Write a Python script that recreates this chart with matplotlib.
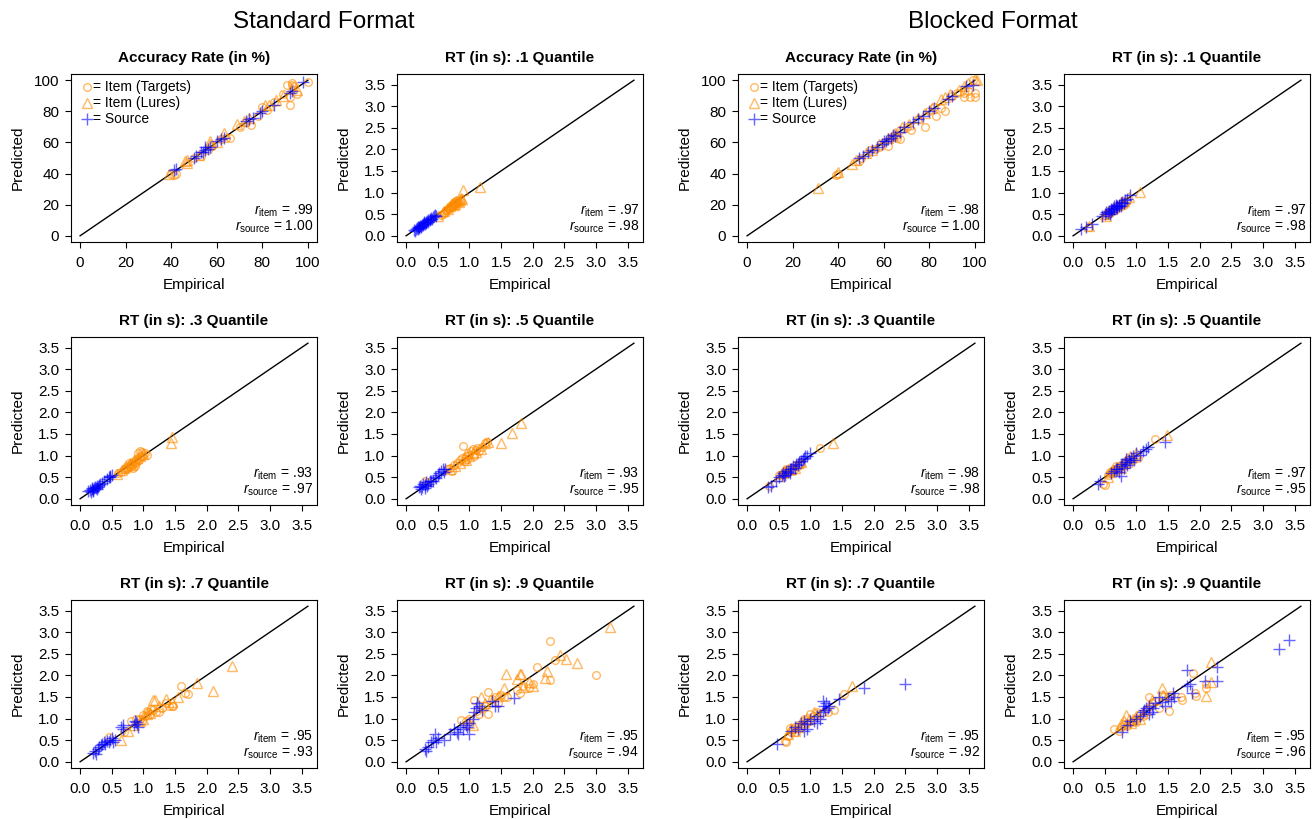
import numpy as np
import matplotlib.pyplot as plt

plt.rcParams['font.family'] = ['Liberation Sans', 'DejaVu Sans']
plt.rcParams['mathtext.fontset'] = 'custom'
plt.rcParams['mathtext.rm'] = 'Liberation Sans'
plt.rcParams['mathtext.it'] = 'Liberation Sans:italic'

ORANGE = '#FF8C00'
BLUE = '#0000FF'

# ---- Standard format: accuracy (%) ----
sf_acc_targets = [(40, 40), (41, 39), (42, 40), (50, 50), (53, 51), (56, 55), (58, 58), (62, 62),
                  (64, 63), (66, 63), (70, 70), (73, 73), (75, 71), (78, 77), (80, 83), (82, 81),
                  (85, 86), (89, 91), (91, 97), (92, 89), (92, 84), (93, 97), (93, 98), (94, 96),
                  (95, 91), (100, 99)]
sf_acc_lures = [(39, 40), (46, 48), (47, 47), (47, 49), (52, 52), (57, 59), (57, 61), (60, 60),
                (63, 66), (69, 72), (72, 74), (74, 76), (81, 84), (83, 84), (86, 87), (89, 90),
                (93, 95), (95, 94)]
sf_acc_source = [(41, 42), (42, 43), (50, 50), (51, 51), (53, 54), (54, 54), (55, 55), (55, 57),
                 (56, 56), (57, 57), (60, 61), (62, 62), (63, 63), (73, 74), (74, 75), (76, 76),
                 (79, 79), (80, 80), (85, 84), (92, 92), (93, 93), (98, 99)]

# ---- Standard format: RT .1 quantile ----
sf_q1_targets = [(0.55, 0.48), (0.58, 0.50), (0.60, 0.52), (0.62, 0.55), (0.63, 0.60), (0.65, 0.60),
                 (0.67, 0.65), (0.68, 0.63), (0.70, 0.66), (0.70, 0.70), (0.72, 0.68), (0.73, 0.70),
                 (0.74, 0.74), (0.75, 0.72), (0.76, 0.78), (0.77, 0.73), (0.78, 0.76), (0.79, 0.80),
                 (0.80, 0.77), (0.81, 0.83), (0.82, 0.78), (0.85, 0.80)]
sf_q1_lures = [(0.50, 0.46), (0.60, 0.57), (0.66, 0.62), (0.70, 0.68), (0.72, 0.74), (0.75, 0.71),
               (0.78, 0.74), (0.80, 0.80), (0.83, 0.79), (0.85, 0.82), (0.87, 0.88), (0.88, 0.85),
               (0.90, 1.05), (1.17, 1.12)]
sf_q1_source = [(0.12, 0.13), (0.14, 0.12), (0.15, 0.16), (0.17, 0.17), (0.18, 0.15), (0.19, 0.21),
                (0.20, 0.20), (0.21, 0.18), (0.22, 0.23), (0.23, 0.20), (0.24, 0.22), (0.25, 0.25),
                (0.26, 0.28), (0.27, 0.26), (0.28, 0.29), (0.29, 0.31), (0.30, 0.28), (0.31, 0.30),
                (0.32, 0.31), (0.33, 0.34), (0.34, 0.36), (0.35, 0.33), (0.37, 0.38), (0.38, 0.36),
                (0.40, 0.41), (0.41, 0.38), (0.42, 0.43), (0.44, 0.45), (0.45, 0.47), (0.47, 0.46)]

# ---- Standard format: RT .3 quantile ----
sf_q3_targets = [(0.60, 0.60), (0.65, 0.62), (0.70, 0.68), (0.72, 0.70), (0.75, 0.72), (0.77, 0.75),
                 (0.78, 0.82), (0.80, 0.80), (0.82, 0.78), (0.83, 0.72), (0.84, 0.85), (0.86, 0.88),
                 (0.87, 0.75), (0.88, 0.82), (0.90, 0.92), (0.92, 1.05), (0.93, 0.90), (0.95, 1.10),
                 (0.97, 0.98), (0.98, 1.08), (1.00, 1.00), (1.02, 1.05), (1.05, 1.02)]
sf_q3_lures = [(0.58, 0.58), (0.66, 0.67), (0.70, 0.72), (0.73, 0.76), (0.79, 0.83), (0.81, 0.79),
               (0.85, 0.90), (0.90, 0.95), (0.95, 1.00), (1.00, 1.03), (1.44, 1.30), (1.45, 1.42)]
sf_q3_source = [(0.13, 0.18), (0.15, 0.20), (0.17, 0.16), (0.18, 0.22), (0.19, 0.25), (0.20, 0.20),
                (0.21, 0.18), (0.22, 0.24), (0.24, 0.27), (0.25, 0.25), (0.26, 0.22), (0.27, 0.30),
                (0.28, 0.28), (0.30, 0.31), (0.32, 0.34), (0.35, 0.36), (0.38, 0.40), (0.42, 0.45),
                (0.45, 0.50), (0.47, 0.50), (0.48, 0.53), (0.50, 0.55)]

# ---- Standard format: RT .5 quantile ----
sf_q5_targets = [(0.30, 0.40), (0.35, 0.38), (0.65, 0.68), (0.70, 0.72), (0.72, 0.65), (0.75, 0.78),
                 (0.80, 0.82), (0.85, 0.90), (0.88, 0.95), (0.90, 1.22), (0.93, 0.88), (0.95, 1.00),
                 (0.97, 0.92), (0.98, 1.05), (1.00, 1.02), (1.02, 1.10), (1.05, 1.15), (1.08, 1.00),
                 (1.10, 1.12), (1.12, 1.18), (1.15, 1.10), (1.20, 1.20), (1.25, 1.30), (1.28, 1.32)]
sf_q5_lures = [(0.70, 0.70), (0.78, 0.76), (0.85, 0.83), (0.92, 0.95), (0.95, 0.90), (1.00, 0.98),
               (1.05, 1.05), (1.10, 1.08), (1.18, 1.15), (1.25, 1.28), (1.30, 1.32), (1.50, 1.28),
               (1.68, 1.53), (1.82, 1.76)]
sf_q5_source = [(0.20, 0.28), (0.22, 0.30), (0.24, 0.22), (0.25, 0.27), (0.27, 0.35), (0.30, 0.32),
                (0.30, 0.25), (0.32, 0.38), (0.33, 0.30), (0.35, 0.35), (0.37, 0.40), (0.40, 0.42),
                (0.42, 0.40), (0.45, 0.50), (0.48, 0.47), (0.50, 0.55), (0.52, 0.60), (0.55, 0.65),
                (0.58, 0.68), (0.60, 0.62), (0.62, 0.70)]

# ---- Standard format: RT .7 quantile ----
sf_q7_targets = [(0.45, 0.57), (0.70, 0.70), (0.80, 0.95), (0.88, 1.00), (0.95, 1.00), (0.98, 0.95),
                 (1.00, 1.08), (1.02, 1.05), (1.05, 1.18), (1.08, 1.15), (1.10, 1.10), (1.12, 1.22),
                 (1.15, 1.20), (1.20, 1.15), (1.25, 1.15), (1.30, 1.25), (1.35, 1.35), (1.40, 1.30),
                 (1.45, 1.30), (1.47, 1.28), (1.60, 1.75), (1.65, 1.60), (1.70, 1.58)]
sf_q7_lures = [(0.65, 0.50), (0.75, 0.72), (0.85, 0.85), (0.95, 0.95), (1.00, 0.98), (1.05, 1.10),
               (1.10, 1.12), (1.15, 1.42), (1.18, 1.42), (1.25, 1.30), (1.35, 1.45), (1.45, 1.38),
               (1.55, 1.50), (1.85, 1.83), (2.10, 1.63), (2.40, 2.22)]
sf_q7_source = [(0.20, 0.20), (0.23, 0.25), (0.25, 0.18), (0.28, 0.30), (0.30, 0.35), (0.33, 0.38),
                (0.35, 0.42), (0.38, 0.45), (0.40, 0.40), (0.42, 0.48), (0.45, 0.45), (0.48, 0.50),
                (0.50, 0.55), (0.52, 0.45), (0.55, 0.50), (0.65, 0.80), (0.67, 0.85), (0.68, 0.75),
                (0.85, 0.85), (0.87, 0.95), (0.88, 0.92), (0.90, 0.88), (0.92, 0.80)]

# ---- Standard format: RT .9 quantile ----
sf_q9_targets = [(0.87, 0.97), (0.95, 0.95), (1.00, 0.98), (1.08, 1.42), (1.12, 1.18), (1.15, 1.10),
                 (1.20, 1.25), (1.25, 1.30), (1.30, 1.62), (1.30, 1.10), (1.35, 1.45), (1.40, 1.50),
                 (1.45, 1.35), (1.50, 1.55), (1.55, 1.50), (1.60, 1.50), (1.75, 1.65), (1.80, 1.60),
                 (1.85, 1.75), (1.95, 1.70), (2.00, 1.80), (2.07, 2.20), (2.27, 2.80), (2.28, 1.90),
                 (2.35, 2.35), (3.00, 2.00)]
sf_q9_lures = [(1.00, 0.90), (1.05, 0.85), (1.18, 1.50), (1.25, 1.35), (1.35, 1.40), (1.45, 1.52),
               (1.55, 1.70), (1.58, 2.03), (1.75, 1.92), (1.80, 2.03), (1.82, 2.03), (1.85, 1.72),
               (1.95, 1.85), (2.00, 1.75), (2.20, 1.95), (2.22, 2.10), (2.43, 2.48), (2.52, 2.38),
               (2.70, 2.28), (3.22, 3.12)]
sf_q9_source = [(0.30, 0.30), (0.32, 0.25), (0.35, 0.35), (0.40, 0.45), (0.43, 0.50), (0.45, 0.65),
                (0.47, 0.45), (0.50, 0.55), (0.60, 0.50), (0.70, 0.65), (0.75, 0.75), (0.80, 0.70),
                (0.82, 0.65), (0.85, 0.80), (0.90, 0.75), (0.95, 0.85), (0.97, 0.80), (1.00, 0.65),
                (1.00, 0.90), (1.05, 1.00), (1.08, 1.15), (1.10, 1.25), (1.12, 1.35), (1.15, 1.30),
                (1.20, 1.20), (1.35, 1.40), (1.40, 1.30), (1.45, 1.28), (1.70, 1.48)]

# ---- Blocked format: accuracy (%) ----
bf_acc_targets = [(39, 39), (40, 40), (49, 48), (50, 50), (54, 55), (56, 56), (58, 57), (60, 60),
                  (62, 58), (63, 63), (64, 64), (66, 63), (67, 62), (67, 68), (70, 70), (72, 68),
                  (75, 75), (78, 70), (80, 80), (82, 83), (83, 77), (85, 82), (87, 80), (90, 90),
                  (92, 92), (95, 89), (95, 92), (97, 93), (98, 89), (99, 100), (100, 92), (100, 89)]
bf_acc_lures = [(31, 31), (40, 41), (46, 46), (48, 49), (52, 53), (55, 55), (58, 59), (62, 63),
                (64, 65), (65, 66), (68, 70), (71, 72), (75, 76), (78, 79), (81, 82), (85, 88),
                (87, 89), (89, 91), (93, 94), (95, 96), (97, 98), (100, 101), (101, 100)]
bf_acc_source = [(49, 50), (51, 51), (53, 54), (55, 55), (57, 57), (59, 59), (60, 61), (61, 61),
                 (62, 62), (63, 63), (64, 65), (65, 64), (67, 67), (69, 70), (73, 73), (75, 75),
                 (77, 77), (80, 80), (82, 82), (88, 88), (90, 90), (96, 96), (99, 97)]

# ---- Blocked format: RT .1 quantile ----
bf_q1_targets = [(0.25, 0.20), (0.50, 0.48), (0.55, 0.50), (0.58, 0.55), (0.60, 0.58), (0.65, 0.60),
                 (0.68, 0.62), (0.70, 0.68), (0.75, 0.70), (0.78, 0.75), (0.80, 0.72), (0.85, 0.80)]
bf_q1_lures = [(0.25, 0.22), (0.50, 0.50), (0.52, 0.45), (0.55, 0.58), (0.62, 0.62), (0.70, 0.72),
               (0.75, 0.78), (0.80, 0.80), (0.88, 0.90), (1.05, 1.02)]
bf_q1_source = [(0.12, 0.15), (0.20, 0.20), (0.30, 0.28), (0.45, 0.45), (0.50, 0.50), (0.52, 0.55),
                (0.55, 0.52), (0.57, 0.58), (0.58, 0.50), (0.60, 0.55), (0.60, 0.62), (0.62, 0.60),
                (0.63, 0.65), (0.65, 0.62), (0.65, 0.68), (0.67, 0.66), (0.68, 0.72), (0.70, 0.70),
                (0.70, 0.65), (0.72, 0.72), (0.73, 0.68), (0.75, 0.70), (0.75, 0.75), (0.78, 0.78),
                (0.80, 0.75), (0.82, 0.82), (0.85, 0.85), (0.90, 0.95)]

# ---- Blocked format: RT .3 quantile ----
bf_q3_targets = [(0.35, 0.30), (0.50, 0.55), (0.55, 0.58), (0.60, 0.65), (0.63, 0.60), (0.65, 0.68),
                 (0.70, 0.72), (0.72, 0.65), (0.75, 0.78), (0.80, 0.75), (0.85, 0.80), (1.15, 1.18)]
bf_q3_lures = [(0.50, 0.52), (0.55, 0.60), (0.58, 0.66), (0.60, 0.63), (0.65, 0.70), (0.70, 0.70),
               (0.75, 0.72), (0.80, 0.82), (0.85, 0.85), (1.35, 1.30)]
bf_q3_source = [(0.33, 0.27), (0.38, 0.30), (0.45, 0.42), (0.50, 0.50), (0.55, 0.55), (0.57, 0.60),
                (0.58, 0.52), (0.60, 0.55), (0.62, 0.65), (0.65, 0.62), (0.67, 0.70), (0.68, 0.60),
                (0.70, 0.68), (0.72, 0.75), (0.75, 0.72), (0.77, 0.80), (0.80, 0.78), (0.82, 0.85),
                (0.85, 0.88), (0.88, 0.92), (0.90, 0.95), (0.92, 0.98), (0.95, 1.00), (1.00, 1.05)]

# ---- Blocked format: RT .5 quantile ----
bf_q5_targets = [(0.48, 0.35), (0.50, 0.33), (0.55, 0.55), (0.58, 0.62), (0.60, 0.60), (0.62, 0.65),
                 (0.65, 0.70), (0.68, 0.75), (0.70, 0.72), (0.72, 0.68), (0.75, 0.78), (0.80, 0.82),
                 (0.85, 0.88), (0.88, 0.80), (0.90, 0.92), (0.95, 0.90), (1.00, 1.00), (1.02, 0.95),
                 (1.30, 1.38)]
bf_q5_lures = [(0.55, 0.50), (0.60, 0.62), (0.65, 0.66), (0.70, 0.74), (0.75, 0.72), (0.78, 0.80),
               (0.80, 0.85), (0.85, 0.95), (0.90, 0.98), (1.00, 1.05), (1.48, 1.48)]
bf_q5_source = [(0.40, 0.35), (0.42, 0.40), (0.60, 0.60), (0.65, 0.65), (0.68, 0.68), (0.70, 0.70),
                (0.72, 0.62), (0.75, 0.52), (0.75, 0.75), (0.78, 0.80), (0.80, 0.72), (0.82, 0.85),
                (0.83, 0.92), (0.85, 0.78), (0.88, 0.90), (0.90, 0.85), (0.92, 0.95), (0.95, 1.00),
                (0.97, 0.90), (1.00, 1.05), (1.05, 1.02), (1.10, 1.10), (1.15, 1.15), (1.18, 1.20),
                (1.45, 1.32)]

# ---- Blocked format: RT .7 quantile ----
bf_q7_targets = [(0.60, 0.48), (0.62, 0.45), (0.65, 0.60), (0.68, 0.78), (0.70, 0.70), (0.72, 0.75),
                 (0.75, 0.80), (0.78, 0.70), (0.80, 0.85), (0.85, 0.80), (0.88, 0.95), (0.90, 1.00),
                 (0.95, 0.92), (1.00, 1.10), (1.05, 1.05), (1.10, 1.15), (1.20, 1.15), (1.28, 1.15),
                 (1.38, 1.20), (1.53, 1.58)]
bf_q7_lures = [(0.65, 0.65), (0.70, 0.78), (0.75, 0.72), (0.80, 0.80), (0.85, 0.88), (0.90, 0.92),
               (0.95, 1.02), (1.00, 1.00), (1.05, 1.15), (1.10, 1.10), (1.66, 1.76)]
bf_q7_source = [(0.48, 0.42), (0.70, 0.72), (0.75, 0.80), (0.80, 0.75), (0.85, 0.90), (0.90, 0.72),
                (0.90, 0.95), (0.95, 0.88), (0.95, 0.75), (1.00, 1.00), (1.05, 0.95), (1.10, 0.90),
                (1.10, 1.05), (1.15, 1.00), (1.20, 1.40), (1.20, 1.15), (1.22, 1.30), (1.23, 1.20),
                (1.25, 1.35), (1.28, 1.25), (1.30, 1.30), (1.45, 1.45), (1.85, 1.70), (2.50, 1.80)]

# ---- Blocked format: RT .9 quantile ----
bf_q9_targets = [(0.65, 0.75), (0.72, 0.72), (0.75, 0.80), (0.80, 0.85), (0.85, 0.82), (0.90, 0.90),
                 (0.95, 0.95), (1.00, 1.00), (1.00, 0.92), (1.05, 1.10), (1.10, 1.05), (1.15, 1.20),
                 (1.20, 1.50), (1.22, 1.30), (1.25, 1.35), (1.30, 1.40), (1.35, 1.25), (1.40, 1.55),
                 (1.50, 1.50), (1.52, 1.17), (1.55, 1.55), (1.70, 1.50), (1.72, 1.42), (1.90, 2.05),
                 (1.92, 1.60), (1.95, 1.53), (2.10, 1.70), (2.10, 1.80)]
bf_q9_lures = [(0.75, 0.88), (0.80, 0.95), (0.83, 1.08), (0.88, 1.00), (0.92, 0.90), (0.95, 0.98),
               (1.00, 1.05), (1.05, 1.00), (1.10, 1.12), (1.15, 1.20), (1.25, 1.42), (1.40, 1.70),
               (1.42, 1.55), (2.10, 1.52), (2.18, 1.85), (2.18, 2.32)]
bf_q9_source = [(0.78, 0.68), (0.85, 0.85), (0.90, 0.95), (1.00, 1.00), (1.05, 1.05), (1.10, 1.15),
                (1.12, 1.20), (1.15, 1.25), (1.20, 1.28), (1.20, 1.10), (1.25, 1.15), (1.27, 1.25),
                (1.30, 1.35), (1.35, 1.50), (1.40, 1.38), (1.45, 1.30), (1.50, 1.45), (1.55, 1.40),
                (1.58, 1.60), (1.60, 1.50), (1.80, 1.75), (1.80, 2.12), (1.85, 1.80), (1.88, 1.60),
                (2.08, 1.87), (2.27, 2.20), (2.28, 1.88), (3.25, 2.62), (3.42, 2.82)]

titles = ['Accuracy Rate (in %)', 'RT (in s): .1 Quantile', 'RT (in s): .3 Quantile',
          'RT (in s): .5 Quantile', 'RT (in s): .7 Quantile', 'RT (in s): .9 Quantile']
r_item_std = ['.99', '.97', '.93', '.93', '.95', '.95']
r_source_std = ['1.00', '.98', '.97', '.95', '.93', '.94']
r_item_blk = ['.98', '.97', '.98', '.97', '.95', '.95']
r_source_blk = ['1.00', '.98', '.98', '.95', '.92', '.96']

std_data = [(sf_acc_targets, sf_acc_lures, sf_acc_source),
            (sf_q1_targets, sf_q1_lures, sf_q1_source),
            (sf_q3_targets, sf_q3_lures, sf_q3_source),
            (sf_q5_targets, sf_q5_lures, sf_q5_source),
            (sf_q7_targets, sf_q7_lures, sf_q7_source),
            (sf_q9_targets, sf_q9_lures, sf_q9_source)]
blk_data = [(bf_acc_targets, bf_acc_lures, bf_acc_source),
            (bf_q1_targets, bf_q1_lures, bf_q1_source),
            (bf_q3_targets, bf_q3_lures, bf_q3_source),
            (bf_q5_targets, bf_q5_lures, bf_q5_source),
            (bf_q7_targets, bf_q7_lures, bf_q7_source),
            (bf_q9_targets, bf_q9_lures, bf_q9_source)]

W, H = 1314, 819
fig = plt.figure(figsize=(W / 100, H / 100), dpi=100)

col_left = [71, 397, 738, 1064]
row_top = [74, 337, 600]
aw, ah = 246, 168

ALPHA = 0.6
MARKERS = [('o', ORANGE, 5.5), ('^', ORANGE, 6.5), ('+', BLUE, 8.0)]


def draw(ax, idx, data, r_item, r_source):
    acc = idx == 0
    lim = 100 if acc else 3.6
    ax.set_xlim(-0.04 * lim, 1.04 * lim)
    ax.set_ylim(-0.04 * lim, 1.04 * lim)
    ax.plot([0, lim], [0, lim], color='black', lw=1.0, zorder=1)
    for pts, (mk, col, ms) in zip(data, MARKERS):
        xs = [p[0] for p in pts]
        ys = [p[1] for p in pts]
        ax.plot(xs, ys, ls='none', marker=mk, ms=ms, mfc='none', mec=col,
                mew=1.0, alpha=ALPHA, zorder=2)
    if acc:
        ticks = np.arange(0, 101, 20)
        labels = [str(t) for t in ticks]
    else:
        ticks = np.arange(0, 3.51, 0.5)
        labels = ['%.1f' % t for t in ticks]
    ax.set_xticks(ticks)
    ax.set_xticklabels(labels)
    ax.set_yticks(ticks)
    ax.set_yticklabels(labels)
    ax.tick_params(direction='out', length=4.5, width=0.8, labelsize=11, pad=4)
    ax.tick_params(axis='x', pad=5.5)
    for s in ax.spines.values():
        s.set_linewidth(0.8)
    ax.set_title(titles[idx], fontsize=11, fontweight='bold', pad=8.5)
    ax.set_xlabel('Empirical', fontsize=11)
    ax.set_ylabel('Predicted', fontsize=11)
    ax.xaxis.set_label_coords(0.5, -0.215)
    ax.yaxis.set_label_coords(-0.19, 0.5)
    ax.text(0.985, 0.165, r'$r_{\mathrm{item}}$ = ' + r_item, transform=ax.transAxes,
            ha='right', va='baseline', fontsize=10)
    ax.text(0.985, 0.068, r'$r_{\mathrm{source}}$ = ' + r_source, transform=ax.transAxes,
            ha='right', va='baseline', fontsize=10)
    if acc:
        leg = ['= Item (Targets)', '= Item (Lures)', '= Source']
        for k, ((mk, col, ms), lab) in enumerate(zip(MARKERS, leg)):
            yy = 0.92 - k * 0.094
            ax.plot([0.066], [yy], marker=mk, ms=ms, mfc='none', mec=col, mew=1.0,
                    alpha=ALPHA, transform=ax.transAxes, ls='none')
            ax.text(0.088, yy, lab, transform=ax.transAxes, ha='left', va='center',
                    fontsize=10)


positions = [(0, 0), (0, 1), (1, 0), (1, 1), (2, 0), (2, 1)]
for block, (data_list, ri, rs) in enumerate([(std_data, r_item_std, r_source_std),
                                            (blk_data, r_item_blk, r_source_blk)]):
    for idx, (r, c) in enumerate(positions):
        cc = c + 2 * block
        rect = [col_left[cc] / W, 1 - (row_top[r] + ah) / H, aw / W, ah / H]
        ax = fig.add_axes(rect)
        draw(ax, idx, data_list[idx], ri[idx], rs[idx])

fig.text(324 / W, 1 - 22 / H, 'Standard Format', ha='center', va='center', fontsize=17.5)
fig.text(993 / W, 1 - 22 / H, 'Blocked Format', ha='center', va='center', fontsize=17.5)

fig.savefig('out.png', dpi=100)
